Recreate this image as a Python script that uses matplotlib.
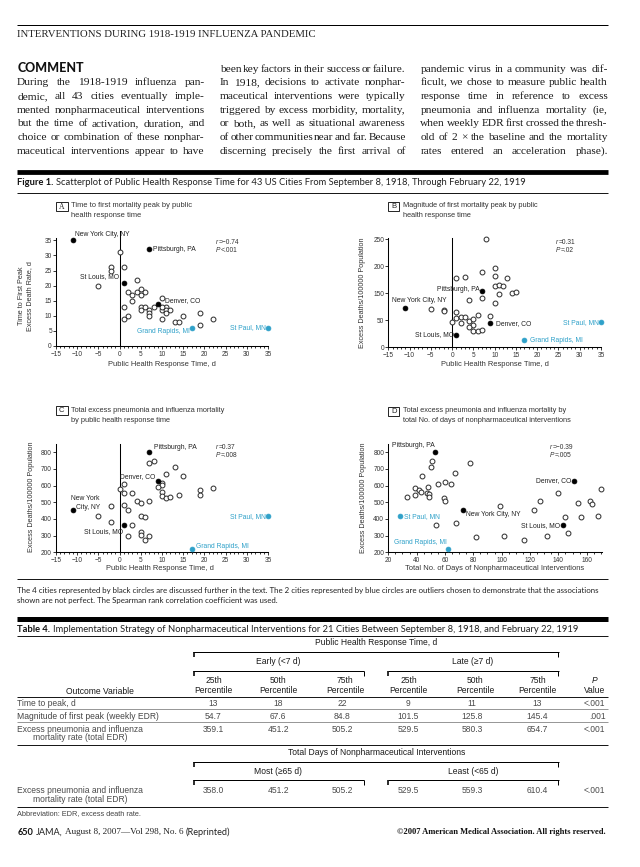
import matplotlib
matplotlib.use('Agg')
import matplotlib.pyplot as plt
from matplotlib.patches import Rectangle
from matplotlib.lines import Line2D
from matplotlib.ticker import MultipleLocator, FixedLocator

# ---------------------------------------------------------------- data
cities = ['New York City, NY', 'Pittsburgh, PA', 'St Louis, MO', 'Denver, CO',
          'Grand Rapids, MI', 'St Paul, MN']
city_kind = ['black', 'black', 'black', 'black', 'blue', 'blue']
city_response = [-11, 7, 1, 9, 17, 35]
city_peak_time = [35, 32, 21, 14, 6, 6]
city_peak_mag = [90, 130, 29, 55, 16, 57]
city_total_edr = [452, 800, 361, 629, 220, 417]
city_npi_days = [73, 53, 143, 151, 62, 28]

# other cities (open circles)
a_x = [0, -2, -2, 1, -5, 4, 2, 3, 4, 5, 5, 6, 3, 1, 5, 5, 6, 7, 7, 7, 8, 10, 10, 11, 11,
       11, 12, 2, 1, 10, 13, 14, 15, 19, 19, 22, 10]
a_y = [31, 26, 25, 26, 20, 22, 18, 17, 18, 19, 17, 18, 15, 13, 13, 12, 13, 12, 11, 10, 13,
       16, 12, 13, 12, 11, 12, 10, 9, 9, 8, 8, 10, 11, 7, 9, 13]
b_x = [8, 10, 10, 1, 3, 7, 13, 10, 11, 12, 11, 14, 15, 7, 4, 10, -5, -2, -2, 1, 1, 2, 3, 6,
       9, 4, 5, 0, 2, 5, 5, 6, 7, 4]
b_y = [250, 183, 166, 161, 162, 174, 160, 142, 144, 142, 124, 126, 127, 113, 108, 102, 88,
       85, 83, 82, 68, 69, 70, 75, 72, 61, 64, 59, 55, 50, 38, 38, 40, 47]
c_x = [8, 7, 13, 11, 15, 1, 10, 10, 9, 0, 1, 3, 10, 10, 11, 12, 14, 19, 19, 22, 4, 5, 7, 1,
       -2, 2, -5, 5, 6, -2, 3, 5, 5, 2, 6, 7]
c_y = [748, 734, 710, 672, 656, 612, 618, 604, 594, 582, 558, 554, 560, 538, 526, 534, 544,
       576, 544, 586, 508, 498, 510, 484, 478, 454, 416, 418, 410, 380, 364, 320, 304, 300,
       274, 296]
d_x = [51, 50, 78, 44, 67, 55, 60, 64, 39, 42, 48, 43, 47, 49, 49, 39, 33, 59, 60, 140, 127,
       99, 123, 154, 162, 164, 170, 145, 156, 168, 68, 54, 147, 82, 102, 116, 132]
d_y = [746, 712, 734, 656, 674, 612, 622, 610, 588, 576, 592, 560, 556, 548, 534, 546, 534,
       524, 510, 558, 510, 476, 452, 498, 510, 488, 582, 410, 414, 418, 378, 364, 318, 294,
       300, 274, 296]

panel_letters = ['A', 'B', 'C', 'D']
panel_titles = [
    ['Time to first mortality peak by public', 'health response time'],
    ['Magnitude of first mortality peak by public', 'health response time'],
    ['Total excess pneumonia and influenza mortality', 'by public health response time'],
    ['Total excess pneumonia and influenza mortality by',
     'total No. of days of nonpharmaceutical interventions'],
]
panel_r = ['=\u22120.74', '=0.31', '=0.37', '=\u22120.39']
panel_p = ['<.001', '=.02', '=.008', '=.005']
b_ytick_values = [0, 62.5, 125, 187.5, 250]
b_ytick_labels = ['0', '50', '150', '200', '250']

tbl_cols = ['25th', '50th', '75th', '25th', '50th', '75th']
tbl_time_to_peak = ['13', '18', '22', '9', '11', '13', '<.001']
tbl_magnitude = ['54.7', '67.6', '84.8', '101.5', '125.8', '145.4', '.001']
tbl_total_edr = ['359.1', '451.2', '505.2', '529.5', '580.3', '654.7', '<.001']
tbl_total_edr_days = ['358.0', '451.2', '505.2', '529.5', '559.3', '610.4', '<.001']

body_col1 = ['During the 1918-1919 influenza pan-',
             'demic, all 43 cities eventually imple-',
             'mented nonpharmaceutical interventions',
             'but the time of activation, duration, and',
             'choice or combination of these nonphar-',
             'maceutical interventions appear to have']
body_col2 = ['been key factors in their success or failure.',
             'In 1918, decisions to activate nonphar-',
             'maceutical interventions were typically',
             'triggered by excess morbidity, mortality,',
             'or both, as well as situational awareness',
             'of other communities near and far. Because',
             'discerning precisely the first arrival of']
body_col3 = ['pandemic virus in a community was dif-',
             'ficult, we chose to measure public health',
             'response time in reference to excess',
             'pneumonia and influenza mortality (ie,',
             'when weekly EDR first crossed the thresh-',
             'old of 2 \u00d7 the baseline and the mortality',
             'rates entered an acceleration phase).']

# ---------------------------------------------------------------- helpers
W, H = 640, 867
fig = plt.figure(figsize=(6.4, 8.67), dpi=100)
fig.patch.set_facecolor('white')
R = fig.canvas.get_renderer()
BLUE = '#2fa1c9'
SERIF = ['Liberation Serif', 'DejaVu Serif']
SANS = ['Liberation Sans', 'DejaVu Sans']
CAP = ['Lato', 'DejaVu Sans']


def fx(x):
    return x / W


def fy(y):
    return 1 - y / H


def width(t):
    return t.get_window_extent(R).width


def text(x, y, s, **kw):
    kw.setdefault('va', 'center')
    return fig.text(fx(x), fy(y), s, **kw)


def fit(t, target):
    t.set_fontsize(t.get_fontsize() * target / width(t))
    return t


def hline(x0, x1, y, lw_px, color='black'):
    fig.add_artist(Line2D([fx(x0), fx(x1)], [fy(y), fy(y)], transform=fig.transFigure,
                          lw=lw_px * 0.72, color=color, solid_capstyle='butt'))


def vline(x, y0, y1, lw_px, color='black'):
    fig.add_artist(Line2D([fx(x), fx(x)], [fy(y0), fy(y1)], transform=fig.transFigure,
                          lw=lw_px * 0.72, color=color, solid_capstyle='butt'))


def runs(x, y, parts, gap_frac=0.26, target=None, ha='left'):
    ts = [text(0, y, s, **kw) for s, kw in parts]

    def lay():
        ws = [width(t) for t in ts]
        sp = [t.get_fontsize() * 100 / 72 * gap_frac for t in ts]
        return ws, sp
    ws, sp = lay()
    total = sum(ws) + sum(sp[:-1])
    if target:
        f = target / total
        for t in ts:
            t.set_fontsize(t.get_fontsize() * f)
        ws, sp = lay()
        total = sum(ws) + sum(sp[:-1])
    start = x if ha == 'left' else x - total
    for t, w, s in zip(ts, ws, sp):
        t.set_x(fx(start))
        start += w + s
    return ts


def justify(x0, x1, y, line, size, family=SERIF, color='#1a1a1a', minfrac=0.12):
    words = line.split()
    ts = [text(0, y, w, fontsize=size, family=family, color=color) for w in words]
    ws = [width(t) for t in ts]
    avail = x1 - x0
    n = len(words)
    minsp = size * 100 / 72 * minfrac
    if sum(ws) + minsp * (n - 1) > avail:
        f = (avail - minsp * (n - 1)) / sum(ws)
        for t in ts:
            t.set_fontsize(size * f)
        ws = [w * f for w in ws]
    gap = (avail - sum(ws)) / (n - 1) if n > 1 else 0
    x = x0
    for t, w in zip(ts, ws):
        t.set_x(fx(x))
        x += w + gap


def bracket(x0, x1, y, tick):
    hline(x0, x1, y, 1.0)
    vline(x0 + 0.5, y, y + tick, 1.6)
    vline(x1 - 0.5, y, y + tick, 1.0)


L, RM = 17.2, 607.8

# ---------------------------------------------------------------- page header / body
hline(L, RM, 25, 1.0)
fit(text(L, 34.5, 'INTERVENTIONS DURING 1918-1919 INFLUENZA PANDEMIC', fontsize=8,
         family=SERIF, color='#222'), 300)
fit(text(L, 68.5, 'COMMENT', fontsize=10, family=CAP, weight='black', color='#111'), 66.6)

cols = [(L, 204.5, body_col1, 1), (219.6, 405.7, body_col2, 0), (420.4, RM, body_col3, 0)]
for x0, x1, lines, off in cols:
    for i, ln in enumerate(lines):
        justify(x0, x1, 69 + 13.7 * (i + off), ln, 8.2)

# ---------------------------------------------------------------- figure 1 caption
hline(L, RM, 171.6, 4.8)
runs(L, 182.3, [('Figure 1.', dict(fontsize=8, family=CAP, weight='bold', color='#111')),
                ('Scatterplot of Public Health Response Time for 43 US Cities From '
                 'September 8, 1918, Through February 22, 1919',
                 dict(fontsize=8, family=CAP, color='#222'))], target=514.5)
hline(L, RM, 192.7, 0.9)

# ---------------------------------------------------------------- panels
panel_boxes = {
    'A': dict(ax=(56, 268, 238.2, 346), xlim=(-15, 35), ylim=(0, 35.7)),
    'B': dict(ax=(388.3, 601, 237.6, 347), xlim=(-15, 35), ylim=(0, 254)),
    'C': dict(ax=(56, 268, 444.3, 552.3), xlim=(-15, 35), ylim=(200, 848)),
    'D': dict(ax=(388.3, 601.7, 444.3, 552.3), xlim=(20, 170.6), ylim=(200, 848)),
}
letter_box = {'A': (56, 68, 201.7, 211), 'B': (388.3, 399, 202.3, 210.5),
              'C': (56, 67.7, 406, 415), 'D': (388.3, 399, 407.3, 415.7)}
title_pos = {'A': (70.7, 205.7, 121.6), 'B': (402.7, 205.7, 139.7),
             'C': (70.7, 410.7, 157.7), 'D': (403.3, 410.5, 167.3)}
stat_pos = {'A': (216, 242.7), 'B': (556, 242.7), 'C': (216, 447.7), 'D': (550, 447.5)}
ylab = {'A': ('Time to First Peak\nExcess Death Rate, d', 25.5, 296),
        'B': ('Excess Deaths/100000 Population', 362.7, 292.3),
        'C': ('Excess Deaths/100000 Population', 31.7, 497),
        'D': ('Excess Deaths/100000 Population', 363.3, 498)}
xlab = {'A': ('Public Health Response Time, d', 162, 364.3),
        'B': ('Public Health Response Time, d', 494.6, 364.3),
        'C': ('Public Health Response Time, d', 160, 568.3),
        'D': ('Total No. of Days of Nonpharmaceutical Interventions', 494.5, 568.3)}

# label placement per city: (ha, dx_px, dy_px)
label_place = {
    'A': [('left', 2, 6), ('left', 3.3, 0), ('right', -5, 6), ('left', 7, 3),
          ('right', -2, -3.7), ('right', -2, 0)],
    'B': [('left', -13, 7.7), ('right', -2.3, 2), ('right', -2.3, 0), ('left', 5.3, -0.7),
          ('left', 5.3, 0), ('right', -1.7, 0)],
    'C': [(None, 0, 0), ('left', 4.3, 4.7), ('right', -1, -6.3), ('right', -2, 4.3),
          ('left', 4.3, 2), ('right', -1.7, 0)],
    'D': [('left', 2.3, -3.7), ('right', -0.7, 6.7), ('right', -2.7, 0), ('right', -2.7, 0),
          ('right', -0.7, 6.7), ('left', 4, 0)],
}

panel_data = {
    'A': (a_x, a_y, city_response, city_peak_time),
    'B': (b_x, b_y, city_response, city_peak_mag),
    'C': (c_x, c_y, city_response, city_total_edr),
    'D': (d_x, d_y, city_npi_days, city_total_edr),
}

GRAY = '#333333'
for k, letter in enumerate(panel_letters):
    cfg = panel_boxes[letter]
    left, right, top, bottom = cfg['ax']
    ax = fig.add_axes([fx(left), fy(bottom), (right - left) / W, (bottom - top) / H])
    ax.set_facecolor('none')
    ax.set_xlim(*cfg['xlim'])
    ax.set_ylim(*cfg['ylim'])
    for s in ['top', 'right']:
        ax.spines[s].set_visible(False)
    for s in ['left', 'bottom']:
        ax.spines[s].set_linewidth(0.75)
    ax.tick_params(which='both', direction='out', color='black', labelcolor=GRAY,
                   labelsize=4.7, width=0.55)
    ax.tick_params(which='major', length=2.0)
    ax.tick_params(which='minor', length=1.4)
    ax.tick_params(axis='y', pad=1.0)
    ax.tick_params(axis='x', pad=1.6)

    if letter == 'D':
        ax.xaxis.set_major_locator(MultipleLocator(20))
        ax.xaxis.set_minor_locator(MultipleLocator(5))
    else:
        ax.xaxis.set_major_locator(FixedLocator(range(-15, 36, 5)))
        ax.xaxis.set_minor_locator(MultipleLocator(1))
    if letter == 'A':
        ax.yaxis.set_major_locator(FixedLocator(range(0, 36, 5)))
    elif letter == 'B':
        ax.set_yticks(b_ytick_values)
        ax.set_yticklabels(b_ytick_labels)
    else:
        ax.yaxis.set_major_locator(FixedLocator(range(200, 801, 100)))
    for lab in ax.get_xticklabels() + ax.get_yticklabels():
        lab.set_fontfamily(SANS)

    if letter != 'D':
        ytop = {'A': 38, 'B': 254, 'C': 848}[letter]
        ax.plot([0, 0], [cfg['ylim'][0], ytop], color='black', lw=0.75, clip_on=False,
                zorder=2)

    ox, oy, cx, cy = panel_data[letter]
    ax.plot(ox, oy, 'o', ms=3.5, mfc='white', mec='#2b2b2b', mew=0.7, clip_on=False,
            zorder=3, ls='none')
    for i, (name, kind) in enumerate(zip(cities, city_kind)):
        col = 'black' if kind == 'black' else BLUE
        ax.plot([cx[i]], [cy[i]], 'o', ms=3.5, mfc=col, mec=col, mew=0.5, clip_on=False,
                zorder=4)
        tcol = '#222222' if kind == 'black' else BLUE
        ha, dx, dy = label_place[letter][i]
        if ha is None:  # New York split label in panel C
            ax.annotate('New York', (cx[i], cy[i]), xytext=(-2.3 * 0.72, 11.7 * 0.72),
                        textcoords='offset points', ha='left', va='center', fontsize=4.9,
                        color=tcol, family=SANS)
            ax.annotate('City, NY', (cx[i], cy[i]), xytext=(2.7 * 0.72, 3 * 0.72),
                        textcoords='offset points', ha='left', va='center', fontsize=4.9,
                        color=tcol, family=SANS)
            continue
        ax.annotate(name, (cx[i], cy[i]), xytext=(dx * 0.72, dy * 0.72),
                    textcoords='offset points', ha=ha, va='center', fontsize=4.9,
                    color=tcol, family=SANS, zorder=5)

    lbl, lx, ly = ylab[letter]
    ax.set_ylabel(lbl, fontsize=5.2, color=GRAY, family=SANS, va='center', ha='center',
                  linespacing=1.15)
    ax.yaxis.set_label_coords((lx - left) / (right - left), (bottom - ly) / (bottom - top))
    lbl, lx, ly = xlab[letter]
    ax.set_xlabel(lbl, fontsize=5.4, color=GRAY, family=SANS, va='center', ha='center')
    ax.xaxis.set_label_coords((lx - left) / (right - left), (bottom - ly) / (bottom - top))

    # letter box
    bx0, bx1, by0, by1 = letter_box[letter]
    fig.add_artist(Rectangle((fx(bx0), fy(by1)), (bx1 - bx0) / W, (by1 - by0) / H,
                             transform=fig.transFigure, fill=False, lw=0.6, ec='black'))
    text((bx0 + bx1) / 2, (by0 + by1) / 2 + 0.3, letter, ha='center', fontsize=5.5,
         family=SERIF if letter == 'A' else SANS, color='#222')
    # title
    tx, ty, tw = title_pos[letter]
    t1 = fit(text(tx, ty, panel_titles[k][0], fontsize=5, family=SANS, color=GRAY), tw)
    text(tx, ty + 10, panel_titles[k][1], fontsize=t1.get_fontsize(), family=SANS,
         color=GRAY)
    # statistics
    sx, sy = stat_pos[letter]
    runs(sx, sy, [('r', dict(fontsize=4.8, family=SANS, style='italic', color=GRAY)),
                  (panel_r[k], dict(fontsize=4.8, family=SANS, color=GRAY))], gap_frac=0.1)
    runs(sx, sy + 7.6, [('P', dict(fontsize=4.8, family=SANS, style='italic', color=GRAY)),
                        (panel_p[k], dict(fontsize=4.8, family=SANS, color=GRAY))],
         gap_frac=0.08)

# ---------------------------------------------------------------- figure footnote
hline(L, RM, 579, 0.9)
note1 = ('The 4 cities represented by black circles are discussed further in the text. '
         'The 2 cities represented by blue circles are outliers chosen to demonstrate '
         'that the associations')
t1n = fit(text(L, 590, note1, fontsize=6, family=CAP, color='#222'), RM - L)
text(L, 600, 'shown are not perfect. The Spearman rank correlation coefficient was used.',
     fontsize=t1n.get_fontsize(), family=CAP, color='#222')

# ---------------------------------------------------------------- table 4
hline(L, RM, 618.5, 5.0)
runs(L, 629, [('Table 4.', dict(fontsize=8, family=CAP, weight='bold', color='#111')),
              ('Implementation Strategy of Nonpharmaceutical Interventions for 21 Cities '
               'Between September 8, 1918, and February 22, 1919',
               dict(fontsize=8, family=CAP, color='#222'))], target=563.6)
hline(L, RM, 636, 0.9)

ref = fit(text(L, 716.5, 'Magnitude of first peak (weekly EDR)', fontsize=6, family=SANS,
               color='#444'), 142)
TS = ref.get_fontsize()
HC = '#1a1a1a'
NC = '#4a4a4a'

text(376.3, 642.7, 'Public Health Response Time, d', ha='center', fontsize=TS, family=SANS,
     color=HC)
bracket(193, 558.5, 652.2, 4.5)
text(278.5, 661.3, 'Early (<7 d)', ha='center', fontsize=TS, family=SANS, color=HC)
text(473, 661.3, 'Late (\u22657 d)', ha='center', fontsize=TS, family=SANS, color=HC)
bracket(193, 364, 671, 5)
bracket(387.7, 558.5, 671, 5)

hdr_x = [213.5, 278, 345, 408.5, 475, 537.5]
val_x = [213.5, 278, 342, 408, 472, 537]
for hx, c in zip(hdr_x, tbl_cols):
    text(hx, 680.7, c, ha='center', fontsize=TS, family=SANS, color=HC)
    text(hx, 690.7, 'Percentile', ha='center', fontsize=TS, family=SANS, color=HC)
text(594.2, 680.7, 'P', ha='center', fontsize=TS, family=SANS, style='italic', color=HC)
text(594.2, 690.7, 'Value', ha='center', fontsize=TS, family=SANS, color=HC)
text(100, 691, 'Outcome Variable', ha='center', fontsize=TS, family=SANS, color=HC)
hline(L, RM, 697.3, 0.9)

text(L, 703.8, 'Time to peak, d', fontsize=TS, family=SANS, color=NC)
text(L, 730, 'Excess pneumonia and influenza', fontsize=TS, family=SANS, color=NC)
text(33, 737.8, 'mortality rate (total EDR)', fontsize=TS, family=SANS, color=NC)
for row, yy in [(tbl_time_to_peak, 703.8), (tbl_magnitude, 716.5), (tbl_total_edr, 730)]:
    for vx, v in zip(val_x, row[:6]):
        text(vx, yy, v, ha='center', fontsize=TS, family=SANS, color=NC)
    text(605.5, yy, row[6], ha='right', fontsize=TS, family=SANS, color=NC)
hline(L, RM, 708.8, 0.6, color='#555')
hline(L, RM, 722.2, 0.6, color='#555')
hline(L, RM, 745, 0.9)

text(376.3, 752.7, 'Total Days of Nonpharmaceutical Interventions', ha='center',
     fontsize=TS, family=SANS, color=HC)
bracket(193, 558.5, 762, 4.5)
text(278.5, 771.3, 'Most (\u226565 d)', ha='center', fontsize=TS, family=SANS, color=HC)
text(473, 771.3, 'Least (<65 d)', ha='center', fontsize=TS, family=SANS, color=HC)
bracket(193, 364, 779.6, 5)
bracket(387.7, 558.5, 779.6, 5)
text(L, 790.7, 'Excess pneumonia and influenza', fontsize=TS, family=SANS, color=NC)
text(33, 799.3, 'mortality rate (total EDR)', fontsize=TS, family=SANS, color=NC)
for vx, v in zip(val_x, tbl_total_edr_days[:6]):
    text(vx, 790.5, v, ha='center', fontsize=TS, family=SANS, color=NC)
text(605.5, 790.5, tbl_total_edr_days[6], ha='right', fontsize=TS, family=SANS, color=NC)
hline(L, RM, 806.7, 0.9)
fit(text(L, 813.5, 'Abbreviation: EDR, excess death rate.', fontsize=5, family=SANS,
         color='#444'), 127)

# ---------------------------------------------------------------- footer
runs(L, 832.3, [('650', dict(fontsize=7, family=CAP, weight='bold', color='#111')),
                ('JAMA,', dict(fontsize=7, family=CAP, color='#222')),
                ('August 8, 2007\u2014Vol 298, No. 6', dict(fontsize=7, family=SERIF,
                                                            color='#222')),
                ('(Reprinted)', dict(fontsize=7, family=CAP, color='#222'))],
     target=214.4)
runs(606, 832.3, [('\u00a92007 American Medical Association. All rights reserved.',
                   dict(fontsize=7, family=SERIF, weight='bold', color='#111'))],
     target=210, ha='right')

fig.savefig('out.png', dpi=100, facecolor='white')
